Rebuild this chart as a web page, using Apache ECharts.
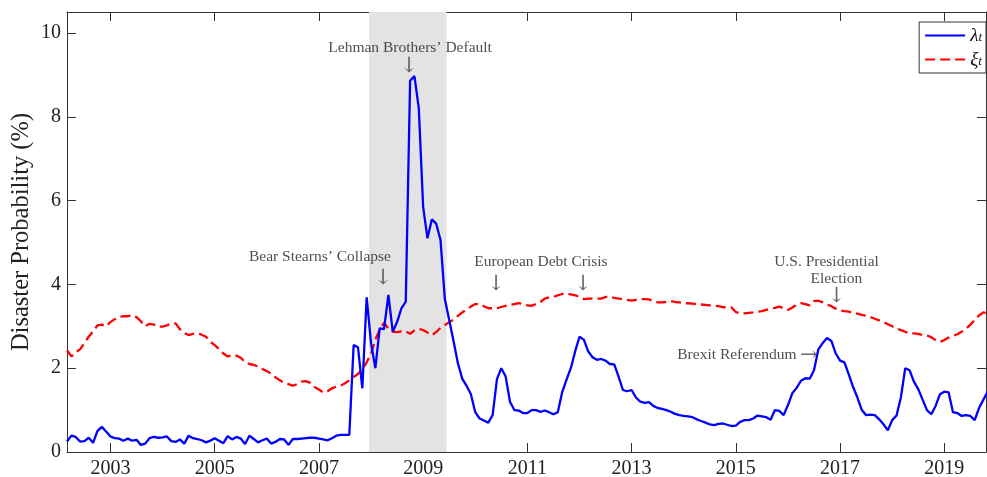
<!DOCTYPE html>
<html>
<head>
<meta charset="utf-8">
<script src="https://cdn.jsdelivr.net/npm/echarts@6/dist/echarts.min.js"></script>
<style>
  html, body { margin: 0; padding: 0; background: #fff; }
  #chart { width: 987px; height: 477px; }
</style>
</head>
<body>
<div id="chart"></div>
<script>
// Monthly series, starting March 2002
const startYear = 2002;
const startMonth = 3;

// lambda_t : disaster probability (%)
const lambdaT = [
  0.25,0.39,0.36,0.25,0.26,0.34,0.22,0.50,0.60,0.49,
  0.37,0.33,0.32,0.27,0.32,0.27,0.29,0.17,0.20,0.33,
  0.36,0.34,0.35,0.37,0.26,0.24,0.30,0.20,0.39,0.33,
  0.31,0.28,0.23,0.27,0.33,0.27,0.21,0.38,0.30,0.36,
  0.32,0.19,0.39,0.31,0.23,0.28,0.32,0.20,0.24,0.31,
  0.30,0.17,0.31,0.31,0.32,0.33,0.34,0.34,0.32,0.30,
  0.28,0.33,0.39,0.41,0.41,0.41,2.55,2.50,1.52,3.69,
  2.60,2.00,2.95,2.93,3.75,2.87,3.10,3.43,3.59,8.86,
  8.97,8.20,5.85,5.10,5.55,5.45,5.06,3.65,3.15,2.65,
  2.12,1.75,1.58,1.38,0.95,0.80,0.75,0.70,0.88,1.74,
  2.00,1.80,1.20,1.00,0.99,0.93,0.93,1.00,1.00,0.96,
  0.99,0.95,0.90,0.95,1.42,1.72,2.00,2.40,2.75,2.68,
  2.40,2.26,2.20,2.22,2.18,2.10,2.09,1.80,1.48,1.45,
  1.48,1.30,1.20,1.17,1.19,1.10,1.05,1.03,1.00,0.96,
  0.91,0.88,0.86,0.85,0.83,0.78,0.74,0.70,0.66,0.64,
  0.67,0.68,0.65,0.62,0.63,0.72,0.76,0.76,0.80,0.87,
  0.85,0.83,0.77,1.00,0.98,0.88,1.12,1.40,1.53,1.70,
  1.76,1.75,1.95,2.45,2.60,2.72,2.65,2.35,2.18,2.14,
  1.85,1.55,1.30,1.00,0.88,0.89,0.88,0.78,0.66,0.52,
  0.76,0.87,1.30,2.00,1.95,1.68,1.50,1.25,1.00,0.90,
  1.10,1.38,1.44,1.42,0.95,0.93,0.86,0.88,0.86,0.76,
  1.05,1.25,1.44
];

// xi_t : long-run disaster probability (%)
const xiT = [
  2.43,2.28,2.38,2.45,2.60,2.75,2.88,3.02,3.04,3.00,
  3.10,3.17,3.22,3.24,3.24,3.26,3.22,3.12,3.00,3.06,
  3.04,2.99,2.99,3.02,3.07,3.07,2.93,2.84,2.79,2.82,
  2.83,2.80,2.75,2.63,2.55,2.46,2.35,2.28,2.31,2.30,
  2.25,2.14,2.10,2.08,2.04,1.98,1.93,1.87,1.78,1.71,
  1.65,1.62,1.58,1.62,1.68,1.69,1.65,1.55,1.49,1.42,
  1.45,1.52,1.56,1.58,1.64,1.71,1.79,1.86,1.98,2.14,
  2.35,2.68,2.92,3.08,2.95,2.87,2.86,2.88,2.88,2.82,
  2.90,2.94,2.91,2.85,2.79,2.86,2.96,3.03,3.10,3.16,
  3.25,3.33,3.40,3.47,3.53,3.53,3.48,3.43,3.43,3.43,
  3.46,3.49,3.51,3.53,3.55,3.53,3.50,3.49,3.53,3.58,
  3.66,3.69,3.70,3.74,3.77,3.77,3.76,3.74,3.70,3.65,
  3.66,3.66,3.66,3.66,3.70,3.70,3.68,3.66,3.65,3.63,
  3.61,3.63,3.65,3.65,3.64,3.60,3.57,3.57,3.58,3.60,
  3.58,3.57,3.55,3.55,3.54,3.53,3.52,3.51,3.50,3.49,
  3.48,3.46,3.45,3.45,3.34,3.31,3.31,3.32,3.33,3.35,
  3.36,3.39,3.42,3.44,3.47,3.43,3.39,3.45,3.52,3.55,
  3.53,3.50,3.60,3.61,3.57,3.52,3.48,3.42,3.38,3.36,
  3.35,3.32,3.30,3.27,3.25,3.22,3.18,3.14,3.10,3.05,
  3.00,2.95,2.91,2.87,2.83,2.83,2.82,2.79,2.78,2.74,
  2.67,2.63,2.67,2.73,2.77,2.81,2.87,2.94,3.04,3.15,
  3.26,3.33,3.30
];

// Axis ticks
const yearTicks = [2003, 2005, 2007, 2009, 2011, 2013, 2015, 2017, 2019];
const probTicks = [0, 2, 4, 6, 8, 10];

// NBER recession band (decimal years)
const recession = [2007.96, 2009.45];

// Event annotations: [year, probability, text, kind]
const notes = [
  [2008.75, 9.64, 'Lehman Brothers\u2019 Default', 'text'],
  [2008.73, 9.20, '\u2193', 'arrow'],
  [2007.02, 4.65, 'Bear Stearns\u2019 Collapse', 'text'],
  [2008.23, 4.14, '\u2193', 'arrow'],
  [2011.26, 4.53, 'European Debt Crisis', 'text'],
  [2010.40, 3.99, '\u2193', 'arrow'],
  [2012.07, 3.99, '\u2193', 'arrow'],
  [2016.74, 4.53, 'U.S. Presidential', 'text'],
  [2016.93, 4.13, 'Election', 'text'],
  [2016.93, 3.70, '\u2193', 'arrow'],
  [2015.02, 2.31, 'Brexit Referendum', 'text'],
  [2016.40, 2.31, '\u2192', 'arrow']
];

const months = lambdaT.map((_, i) => startYear + (startMonth - 1 + i) / 12);
const lambdaData = lambdaT.map((v, i) => [months[i], v]);
const xiData = xiT.map((v, i) => [months[i], v]);

const serif = 'Liberation Serif';
const axisColor = '#333';
const xMin = months[0];
const xMax = 2019.8;

const chart = echarts.init(document.getElementById('chart'), null, { renderer: 'canvas' });

chart.setOption({
  animation: false,
  backgroundColor: '#fff',
  grid: { left: 67, right: 1, top: 12, bottom: 25, containLabel: false, outerBoundsMode: 'none' },
  xAxis: [
    {
      type: 'value', min: xMin, max: xMax, position: 'bottom',
      axisLine: { show: true, onZero: false, lineStyle: { color: axisColor, width: 1 } },
      axisTick: { show: true, inside: true, length: 9, customValues: yearTicks, lineStyle: { color: axisColor } },
      axisLabel: { show: true, customValues: yearTicks, formatter: v => String(v),
        fontFamily: serif, fontSize: 20, color: '#222', margin: 7 },
      splitLine: { show: false }
    },
    {
      type: 'value', min: xMin, max: xMax, position: 'top',
      axisLine: { show: true, onZero: false, lineStyle: { color: axisColor, width: 1 } },
      axisTick: { show: true, inside: true, length: 9, customValues: yearTicks, lineStyle: { color: axisColor } },
      axisLabel: { show: false },
      splitLine: { show: false }
    }
  ],
  yAxis: [
    {
      type: 'value', min: 0, max: 10.5, position: 'left',
      name: 'Disaster Probability (%)', nameLocation: 'middle', nameGap: 33, nameRotate: 90,
      nameMoveOverlap: false,
      nameTextStyle: { fontFamily: serif, fontSize: 24.5, color: '#222' },
      axisLine: { show: true, onZero: false, lineStyle: { color: axisColor, width: 1 } },
      axisTick: { show: true, inside: true, length: 9, customValues: probTicks, lineStyle: { color: axisColor } },
      axisLabel: { show: true, customValues: probTicks, formatter: v => String(v),
        fontFamily: serif, fontSize: 20, color: '#222', margin: 6 },
      splitLine: { show: false }
    },
    {
      type: 'value', min: 0, max: 10.5, position: 'right',
      axisLine: { show: true, onZero: false, lineStyle: { color: axisColor, width: 1 } },
      axisTick: { show: true, inside: true, length: 9, customValues: probTicks, lineStyle: { color: axisColor } },
      axisLabel: { show: false },
      splitLine: { show: false }
    }
  ],
  legend: {
    data: ['lambda', 'xi'],
    orient: 'vertical',
    right: 1, top: 22,
    padding: [4, 4, 4, 5],
    itemGap: 5,
    itemWidth: 40, itemHeight: 14,
    backgroundColor: '#fff',
    borderColor: '#333', borderWidth: 1, borderRadius: 0,
    itemStyle: { opacity: 0 },
    formatter: name => name === 'lambda' ? '{m|\u03bb}{s|t}' : '{m|\u03be}{s|t}',
    textStyle: {
      color: '#111',
      rich: {
        m: { fontFamily: serif, fontStyle: 'italic', fontSize: 19, lineHeight: 18, verticalAlign: 'middle' },
        s: { fontFamily: serif, fontStyle: 'italic', fontSize: 13, lineHeight: 11, verticalAlign: 'bottom' }
      }
    }
  },
  series: [
    {
      name: 'recession', type: 'line', data: [], z: 0, silent: true,
      markArea: {
        silent: true,
        itemStyle: { color: '#e3e3e3' },
        data: [[{ xAxis: recession[0] }, { xAxis: recession[1] }]]
      }
    },
    {
      name: 'xi', type: 'line', data: xiData, z: 3,
      showSymbol: false, symbol: 'none', clip: true,
      lineStyle: { color: '#ff0000', width: 2.3, type: [10, 5] },
      itemStyle: { color: '#ff0000' }
    },
    {
      name: 'lambda', type: 'line', data: lambdaData, z: 4,
      showSymbol: false, symbol: 'none', clip: true,
      lineStyle: { color: '#0000ff', width: 2.3 },
      itemStyle: { color: '#0000ff' }
    },
    {
      name: 'notes', type: 'scatter', z: 5, silent: true,
      symbolSize: 0,
      data: notes.map(n => ({
        value: [n[0], n[1]],
        label: n[3] === 'arrow'
          ? { fontSize: 21, color: '#444', fontFamily: 'DejaVu Serif' }
          : {}
      })),
      label: {
        show: true, position: 'inside',
        formatter: p => notes[p.dataIndex][2],
        fontFamily: serif, fontSize: 15.5, color: '#222'
      }
    }
  ]
});
</script>
</body>
</html>
